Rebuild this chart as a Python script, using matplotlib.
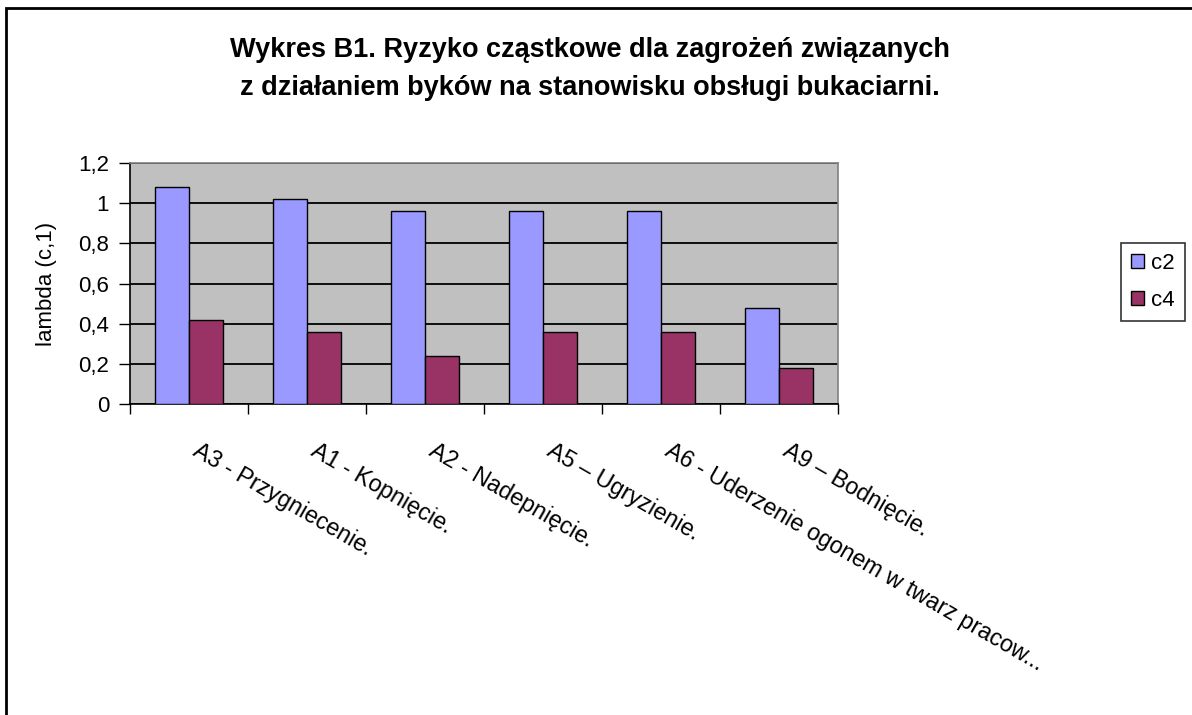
import matplotlib
matplotlib.use("Agg")
import matplotlib.pyplot as plt
import numpy as np
from matplotlib.patches import Rectangle

plt.rcParams['font.family'] = ['Liberation Sans', 'DejaVu Sans']

categories = ["A3 - Przygniecenie.", "A1 - Kopnięcie.", "A2 - Nadepnięcie.",
              "A5 \u2013 Ugryzienie.", "A6 - Uderzenie ogonem w twarz pracow...",
              "A9 \u2013 Bodnięcie."]
c2 = [1.08, 1.02, 0.96, 0.96, 0.96, 0.48]
c4 = [0.42, 0.36, 0.24, 0.36, 0.36, 0.18]
yticks = [0, 0.2, 0.4, 0.6, 0.8, 1.0, 1.2]
ytick_labels = ["0", "0,2", "0,4", "0,6", "0,8", "1", "1,2"]

fig = plt.figure(figsize=(11.92, 7.15), dpi=100)
ax = fig.add_axes([130/1192, 1 - 404/715, (838 - 130)/1192, (404 - 163)/715])

x = np.arange(len(categories))
w = 0.29
ax.set_axisbelow(True)
ax.set_facecolor('#C0C0C0')
ax.bar(x - w/2, c2, w, color='#9999FF', edgecolor='black', linewidth=1, label='c2', zorder=3)
ax.bar(x + w/2, c4, w, color='#993366', edgecolor='black', linewidth=1, label='c4', zorder=3)

ax.set_xlim(-0.5, len(categories) - 0.5)
ax.set_ylim(0, 1.2)
ax.set_yticks(yticks)
ax.set_yticklabels(ytick_labels, fontsize=16)
ax.yaxis.grid(True, color='black', linewidth=1.3, zorder=1)
ax.tick_params(axis='y', length=8, width=1, pad=7)

# labels start a little right of the category centre, like in Excel
ax.set_xticks(x + 0.1)
ax.set_xticklabels(categories, rotation=-30, ha='left', va='top',
                   rotation_mode='anchor', fontsize=16.8)
ax.set_xticks(np.arange(len(categories) + 1) - 0.5, minor=True)
ax.tick_params(axis='x', which='major', length=0, pad=25)
ax.tick_params(axis='x', which='minor', length=7, width=1)

for s in ['top', 'right']:
    ax.spines[s].set_color('#808080')
    ax.spines[s].set_linewidth(1.2)
for s in ['left', 'bottom']:
    ax.spines[s].set_color('black')
    ax.spines[s].set_linewidth(1.2)

ax.set_ylabel("lambda (c,1)", fontsize=16, labelpad=15)

fig.text(590/1192, 1 - 50/715, "Wykres B1. Ryzyko cząstkowe dla zagrożeń związanych",
         ha='center', va='center', fontsize=19.5, fontweight='bold')
fig.text(590/1192, 1 - 88/715, "z działaniem byków na stanowisku obsługi bukaciarni.",
         ha='center', va='center', fontsize=19.5, fontweight='bold')

leg = fig.legend(loc='center left', bbox_to_anchor=(1121/1192, 1 - 282/715),
                 fontsize=16, frameon=True, fancybox=False, handlelength=0.6,
                 handleheight=0.6, handletextpad=0.3, borderpad=0.45, labelspacing=0.7,
                 borderaxespad=0)
leg.get_frame().set_edgecolor('black')
leg.get_frame().set_linewidth(1.2)

fig.patches.append(Rectangle((6/1192, -0.1), 1.2, 1.1 - 8/715, transform=fig.transFigure,
                             fill=False, edgecolor='black', linewidth=2))

fig.savefig("out.png", dpi=100)
